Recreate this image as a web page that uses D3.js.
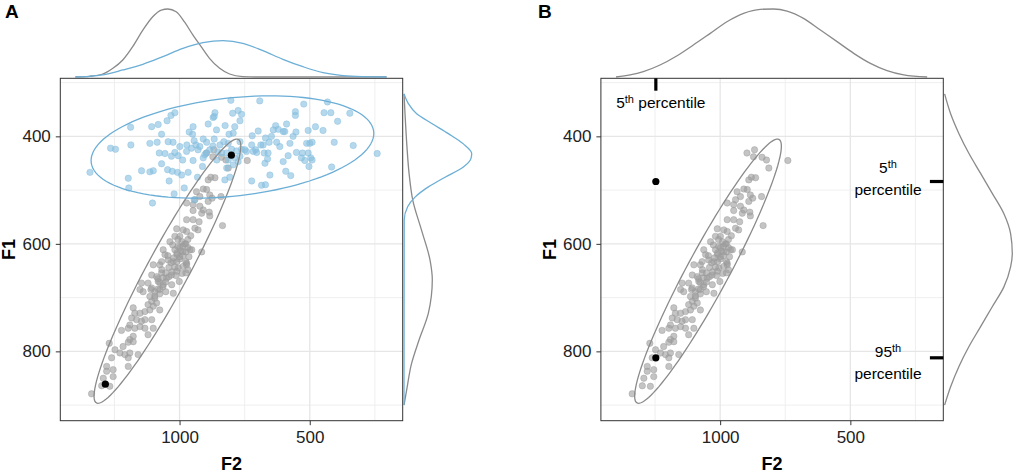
<!DOCTYPE html>
<html>
<head>
<meta charset="utf-8">
<script src="https://cdn.jsdelivr.net/npm/d3@7"></script>
<style>
  body { margin: 0; background: #fff; }
  svg { display: block; font-family: "Liberation Sans", Arial, Helvetica, sans-serif; }
</style>
</head>
<body>
<svg id="chart" width="1013" height="473"></svg>
<script>
// ---- data ----
// axis limits (F2 is reversed, F1 is reversed)
const f2Limits = [1458, 143];
const f1Limits = [292, 929];
const f2Ticks = [1000, 500];
const f2Minor = [1250, 750, 250];
const f1Ticks = [400, 600, 800];
const f1Minor = [300, 500, 700, 900];

// light blue group (panel A only)
const blueF2 = [1344,1265,1246,1188,1187,1197,1195,1146,1114,1107,1082,1086,1078,1069,1048,1033,1018,1044,1025,1069,
  1114,1101,1046,1028,1008,1040,1104,1021,982,1018,999,1005,988,973,967,963,948,950,944,954,
  937,948,929,909,896,890,871,864,858,867,909,896,912,931,944,825,830,810,796,803,
  845,819,807,992,1031,1056,867,
  692,523,432,775,762,768,788,794,768,813,800,781,762,749,723,721,698,708,704,688,
  679,675,660,662,672,656,647,640,631,621,602,589,596,627,615,576,564,553,602,583,
  592,573,551,528,532,519,506,496,491,503,512,500,491,506,478,449,445,419,393,346,
  555,555,406,333,416,241,723,685,670,653,670,
  819,813,794,788,768,775,826,743,717,922,884,853,903,872,838,972,857];
const blueF1 = [467,422,424,383,416,478,496,464,413,382,378,411,431,396,371,361,356,410,411,451,
  466,464,462,465,467,483,524,507,496,430,419,436,444,428,467,392,382,396,408,422,
  416,445,425,405,411,377,365,356,388,405,440,431,456,476,518,380,410,396,357,333,
  416,459,476,472,437,432,363,
  334,340,336,352,359,371,382,394,410,413,424,427,424,425,416,399,390,425,430,416,
  416,431,431,442,450,411,400,388,380,387,391,377,391,411,419,413,400,392,447,436,
  465,473,430,431,440,445,431,440,444,456,413,413,411,389,382,389,356,356,372,357,
  354,361,411,417,457,432,483,491,490,472,403,
  431,444,453,440,437,447,481,428,428,419,425,429,434,418,431,416,444];

// grey group (same in both panels)
const greyF2 = [868,839,822,813,740,880,864,890,909,896,935,922,884,875,841,890,941,973,948,922,
  909,915,886,884,948,973,948,925,835,1011,986,973,941,929,1018,999,1037,1026,1006,987,
  968,1018,995,976,960,1010,987,964,999,976,915,1063,1056,1044,1076,973,1101,1069,1024,1005,
  986,976,1107,1088,1069,1050,1031,1011,1146,1121,1082,1063,1001,1152,1140,1107,1095,1076,1114,1095,
  1107,1088,1121,1101,1076,1114,1178,1172,1152,1133,1184,1165,1146,1133,1107,1191,1197,1172,1152,1133,
  1101,1223,1121,1178,1191,1178,1197,1270,1217,1248,1229,1210,1191,1159,1261,1197,1280,1255,1197,1280,
  1255,1293,1299,1268,1338,897,872,1024,973,990,968,
  1095,1076,1083,1064,1076,1053,1064,1041,1053,1029,1041,1018,1033,1010,1022,999,1010,987,999,980,
  968,991,957,1068,1014,1083,1030,1110,1053,976,1045,953,1006];
const greyF1 = [425,439,444,459,445,476,477,481,498,499,503,512,509,515,512,521,518,524,527,530,
  537,543,541,548,538,555,555,559,566,572,574,577,571,574,586,586,596,602,605,604,
  607,611,613,615,611,620,622,624,628,600,615,611,620,630,639,639,639,633,633,645,
  642,654,658,661,654,664,658,651,673,673,670,676,670,685,689,682,689,685,698,701,
  707,710,713,716,723,723,719,729,729,726,738,741,744,741,741,751,757,757,754,757,
  757,761,769,772,778,782,783,785,791,797,803,806,803,806,812,812,828,834,828,837,
  847,850,864,865,879,431,438,692,636,655,648,
  697,693,684,680,672,671,663,661,654,652,644,643,635,633,626,624,617,615,607,600,
  592,596,585,648,659,665,676,685,689,633,622,611,592];

// highlighted speakers
const markAF2 = [801, 1285];
const markAF1 = [435, 861];
const markBF2 = [1247, 1247];
const markBF1 = [484, 812];

// percentile markers in panel B
const pctF2 = [1247];
const pctF2Label = ["5"];
const pctF1 = [484, 812];
const pctF1Label = ["5", "95"];

// marginal density curves (relative height, 1 = full margin)
const aTopGreyF2 = [1400,1346,1295,1256,1218,1180,1141,1103,1070,1045,1013,981,949,917,885,846,808,757,705,205];
const aTopGreyD  = [0,0.01,0.044,0.128,0.25,0.446,0.69,0.887,0.985,1.0,0.96,0.81,0.62,0.446,0.275,0.128,0.044,0.005,0,0];
const aTopBlueF2 = [1400,1346,1295,1218,1141,1064,987,910,833,757,680,603,526,449,372,295,205];
const aTopBlueD  = [0,0.01,0.03,0.103,0.187,0.30,0.42,0.504,0.534,0.496,0.387,0.26,0.151,0.063,0.02,0.005,0];
const aRightGreyF1 = [321,358,420,469,519,575,630,667,729,779,822,872,900];
const aRightGreyD  = [0,0.015,0.044,0.075,0.13,0.26,0.384,0.418,0.36,0.222,0.113,0.039,0];
const aRightBlueF1 = [321,339,358,376,395,414,432,441,457,476,494,513,531,556,900];
const aRightBlueD  = [0,0.064,0.187,0.41,0.655,0.877,1.0,0.99,0.877,0.606,0.36,0.163,0.054,0.003,0];
const bTopF2 = [1400,1346,1295,1231,1167,1103,1038,974,910,846,795,743,680,615,551,487,423,359,295,205];
const bTopD  = [0,0.03,0.078,0.176,0.309,0.47,0.642,0.813,0.936,0.995,1.0,0.97,0.863,0.69,0.52,0.348,0.2,0.093,0.03,0];
const bRightF1 = [321,358,395,432,469,506,544,581,618,643,680,717,754,791,828,866,900];
const bRightD  = [0,0.089,0.212,0.36,0.532,0.704,0.876,0.975,1.0,0.975,0.876,0.704,0.532,0.36,0.212,0.089,0];

// ---- drawing ----
const BLUE = "#6BAED6", BLUE_PT = "#86BEDF";
const GREY = "#8A8A8A", GREY_PT = "#9C9C9C";
const PS = 342.4, TOP = 78.3;

const svg = d3.select("#chart");
const x = d3.scaleLinear().domain(f2Limits).range([0, PS]);
const y = d3.scaleLinear().domain(f1Limits).range([0, PS]);
const hTop = d3.scaleLinear().domain([0, 1]).range([-1.3, -69.3]);
const hRight = d3.scaleLinear().domain([0, 1]).range([PS + 1.3, PS + 69]);

const zip = (a, b) => a.map((v, i) => [v, b[i]]);

// 95% normal-theory ellipse from the sample covariance
function ellipse(xs, ys) {
  const n = xs.length, mx = d3.mean(xs), my = d3.mean(ys);
  let sxx = 0, syy = 0, sxy = 0;
  for (let i = 0; i < n; i++) {
    const dx = xs[i] - mx, dy = ys[i] - my;
    sxx += dx * dx; syy += dy * dy; sxy += dx * dy;
  }
  sxx /= n - 1; syy /= n - 1; sxy /= n - 1;
  const r = Math.sqrt(5.991);
  const l11 = Math.sqrt(sxx), l21 = sxy / l11, l22 = Math.sqrt(syy - l21 * l21);
  return d3.range(120).map(i => {
    const t = 2 * Math.PI * i / 120, u = Math.cos(t), v = Math.sin(t);
    return [mx + r * l11 * u, my + r * (l21 * u + l22 * v)];
  });
}

const ellLine = d3.line().x(d => x(d[0])).y(d => y(d[1])).curve(d3.curveLinearClosed);
const topLine = d3.line().x(d => x(d[0])).y(d => hTop(d[1])).curve(d3.curveMonotoneX);
const rightLine = d3.line().x(d => hRight(d[1])).y(d => y(d[0])).curve(d3.curveMonotoneY);

function drawPoints(g, xs, ys, fill) {
  g.append("g").selectAll("circle").data(zip(xs, ys)).join("circle")
    .attr("cx", d => x(d[0])).attr("cy", d => y(d[1])).attr("r", 3.2)
    .attr("fill", fill).attr("fill-opacity", 0.6)
    .attr("stroke", fill).attr("stroke-opacity", 0.55).attr("stroke-width", 0.8);
}

function drawPanel(left, label, opts) {
  const g = svg.append("g").attr("transform", `translate(${left},${TOP})`);
  const clipId = "clip" + label;
  g.append("clipPath").attr("id", clipId).append("rect").attr("width", PS).attr("height", PS);

  // grid
  const grid = g.append("g");
  grid.selectAll(".vmin").data(f2Minor).join("line")
    .attr("x1", d => x(d)).attr("x2", d => x(d)).attr("y1", 0).attr("y2", PS)
    .attr("stroke", "#EDEDED").attr("stroke-width", 0.9);
  grid.selectAll(".hmin").data(f1Minor).join("line")
    .attr("y1", d => y(d)).attr("y2", d => y(d)).attr("x1", 0).attr("x2", PS)
    .attr("stroke", "#EDEDED").attr("stroke-width", 0.9);
  grid.selectAll(".vmaj").data(f2Ticks).join("line")
    .attr("x1", d => x(d)).attr("x2", d => x(d)).attr("y1", 0).attr("y2", PS)
    .attr("stroke", "#E6E6E6").attr("stroke-width", 1.3);
  grid.selectAll(".hmaj").data(f1Ticks).join("line")
    .attr("y1", d => y(d)).attr("y2", d => y(d)).attr("x1", 0).attr("x2", PS)
    .attr("stroke", "#E6E6E6").attr("stroke-width", 1.3);

  const plot = g.append("g").attr("clip-path", `url(#${clipId})`);
  drawPoints(plot, greyF2, greyF1, GREY_PT);
  if (opts.blue) drawPoints(plot, blueF2, blueF1, BLUE_PT);

  plot.append("path").attr("d", ellLine(ellipse(greyF2, greyF1)))
    .attr("fill", "none").attr("stroke", GREY).attr("stroke-width", 1.3);
  if (opts.blue) {
    plot.append("path").attr("d", ellLine(ellipse(blueF2, blueF1)))
      .attr("fill", "none").attr("stroke", BLUE).attr("stroke-width", 1.3);
  }

  plot.append("g").selectAll("circle").data(zip(opts.markF2, opts.markF1)).join("circle")
    .attr("cx", d => x(d[0])).attr("cy", d => y(d[1])).attr("r", 3.6).attr("fill", "#000");

  g.append("rect").attr("width", PS).attr("height", PS)
    .attr("fill", "none").attr("stroke", "#333").attr("stroke-width", 1);

  // axes
  const ax = g.append("g").attr("transform", `translate(0,${PS})`)
    .call(d3.axisBottom(x).tickValues(f2Ticks).tickFormat(d3.format("d")).tickSize(4.5).tickPadding(6));
  const ay = g.append("g")
    .call(d3.axisLeft(y).tickValues(f1Ticks).tickFormat(d3.format("d")).tickSize(4.5).tickPadding(5));
  [ax, ay].forEach(a => {
    a.select(".domain").remove();
    a.selectAll("line").attr("stroke", "#333").attr("stroke-width", 1);
    a.selectAll("text").attr("fill", "#222").style("font-size", "17px")
      .style("font-family", '"Liberation Sans", Arial, sans-serif');
  });

  g.append("text").attr("x", PS / 2).attr("y", 470 - TOP).attr("text-anchor", "middle")
    .style("font-size", "18px").style("font-weight", "bold").text("F2");
  g.append("text").attr("transform", `translate(-45,${PS / 2}) rotate(-90)`)
    .attr("text-anchor", "middle").style("font-size", "18px").style("font-weight", "bold").text("F1");
  g.append("text").attr("x", label === "A" ? -55.3 : -62.9).attr("y", 18.3 - TOP)
    .style("font-size", "19px").style("font-weight", "bold").text(label);

  // marginal densities
  opts.top.forEach(c => {
    g.append("path").attr("d", topLine(zip(c.f, c.d)))
      .attr("fill", "none").attr("stroke", c.color).attr("stroke-width", 1.3);
  });
  opts.right.forEach(c => {
    g.append("path").attr("d", rightLine(zip(c.f, c.d)))
      .attr("fill", "none").attr("stroke", c.color).attr("stroke-width", 1.3);
  });
  return g;
}

drawPanel(60.3, "A", {
  blue: true, markF2: markAF2, markF1: markAF1,
  top: [{ f: aTopGreyF2, d: aTopGreyD, color: GREY }, { f: aTopBlueF2, d: aTopBlueD, color: BLUE }],
  right: [{ f: aRightGreyF1, d: aRightGreyD, color: GREY }, { f: aRightBlueF1, d: aRightBlueD, color: BLUE }]
});

const gB = drawPanel(600.9, "B", {
  blue: false, markF2: markBF2, markF1: markBF1,
  top: [{ f: bTopF2, d: bTopD, color: GREY }],
  right: [{ f: bRightF1, d: bRightD, color: GREY }]
});

// percentile markers and labels
function pctText(sel, num, rest) {
  sel.append("tspan").text(num);
  sel.append("tspan").attr("dy", -5).style("font-size", "11px").text("th");
  if (rest) sel.append("tspan").attr("dy", 5).text(rest);
}

gB.selectAll(".pf2").data(pctF2).join("line")
  .attr("x1", d => x(d)).attr("x2", d => x(d)).attr("y1", 0).attr("y2", 12.4)
  .attr("stroke", "#000").attr("stroke-width", 3.2);
pctF2.forEach((v, i) => {
  const t = gB.append("text").attr("x", x(v) + 5).attr("y", 30.2)
    .attr("text-anchor", "middle").style("font-size", "15.5px");
  pctText(t, pctF2Label[i], " percentile");
});

gB.selectAll(".pf1").data(pctF1).join("line")
  .attr("x1", PS - 13.4).attr("x2", PS).attr("y1", d => y(d)).attr("y2", d => y(d))
  .attr("stroke", "#000").attr("stroke-width", 3.2);
const labelShift = [-8.4, -1];
pctF1.forEach((v, i) => {
  const cx = 888 - 600.9;
  const t1 = gB.append("text").attr("x", cx).attr("y", y(v) + labelShift[i])
    .attr("text-anchor", "middle").style("font-size", "15.5px");
  pctText(t1, pctF1Label[i], null);
  gB.append("text").attr("x", cx).attr("y", y(v) + labelShift[i] + 21.7)
    .attr("text-anchor", "middle").style("font-size", "15.5px").text("percentile");
});
</script>
</body>
</html>
